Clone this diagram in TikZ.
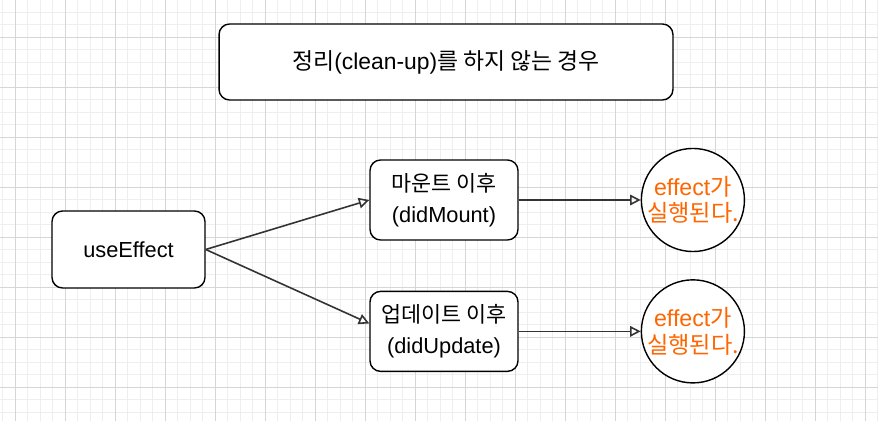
\documentclass[tikz,border=0pt]{standalone}
\usepackage{fontspec}
\setmainfont{Liberation Sans}
\newfontfamily\kr{Noto Sans CJK KR}
\usetikzlibrary{arrows.meta,positioning}
\definecolor{runorange}{RGB}{255,102,0}
\definecolor{gridminor}{RGB}{238,238,238}
\definecolor{gridmajor}{RGB}{214,214,214}

\begin{document}
\begin{tikzpicture}[x=0.02cm,y=-0.02cm,
    box/.style={rectangle,rounded corners=6pt,draw,line width=0.8pt,fill=white,align=center,font=\fontsize{12.4}{17.5}\selectfont},
    result/.style={circle,draw,line width=0.8pt,fill=white,minimum size=2.04cm,inner sep=0pt,align=center,text=runorange,font=\fontsize{13.2}{15}\selectfont},
    arrow/.style={-{Triangle[open,length=6pt,width=6pt]},line width=0.9pt,draw=black!80}]
    \useasboundingbox (0,0) rectangle (878,421);
    % grid
    \foreach \x in {2.5,15,...,877.5} \draw[gridminor] (\x,0) -- (\x,421);
    \foreach \y in {12,24.5,...,412} \draw[gridminor] (0,\y) -- (878,\y);
    \foreach \x in {15,65,...,865} \draw[gridmajor] (\x,0) -- (\x,421);
    \foreach \y in {37,87,...,387} \draw[gridmajor] (0,\y) -- (878,\y);
    % nodes
    \node[box,minimum width=9.08cm,minimum height=1.52cm,font=\fontsize{13}{17.5}\selectfont] (title) at (446,62) {{\kr 정리}(clean-up){\kr 를 하지 않는 경우}};
    \node[box,minimum width=3.06cm,minimum height=1.54cm] (use) at (128.5,249.5) {useEffect};
    \node[box,minimum width=2.96cm,minimum height=1.6cm] (mount) at (444,200) {{\kr 마운트 이후}\\(didMount)};
    \node[box,minimum width=2.96cm,minimum height=1.6cm,below=1cm of mount] (update) {{\kr 업데이트 이후}\\(didUpdate)};
    \node[result,right=2.44cm of mount] (run1) {effect{\kr 가}\\{\kr 실행된다.}};
    \node[result,right=2.44cm of update] (run2) {effect{\kr 가}\\{\kr 실행된다.}};
    % arrows
    \draw[arrow] (use.east) -- (mount.west);
    \draw[arrow] (use.east) -- ([yshift=4.5pt]update.west);
    \draw[arrow] (mount) -- (run1);
    \draw[arrow] (update) -- (run2);
\end{tikzpicture}
\end{document}
